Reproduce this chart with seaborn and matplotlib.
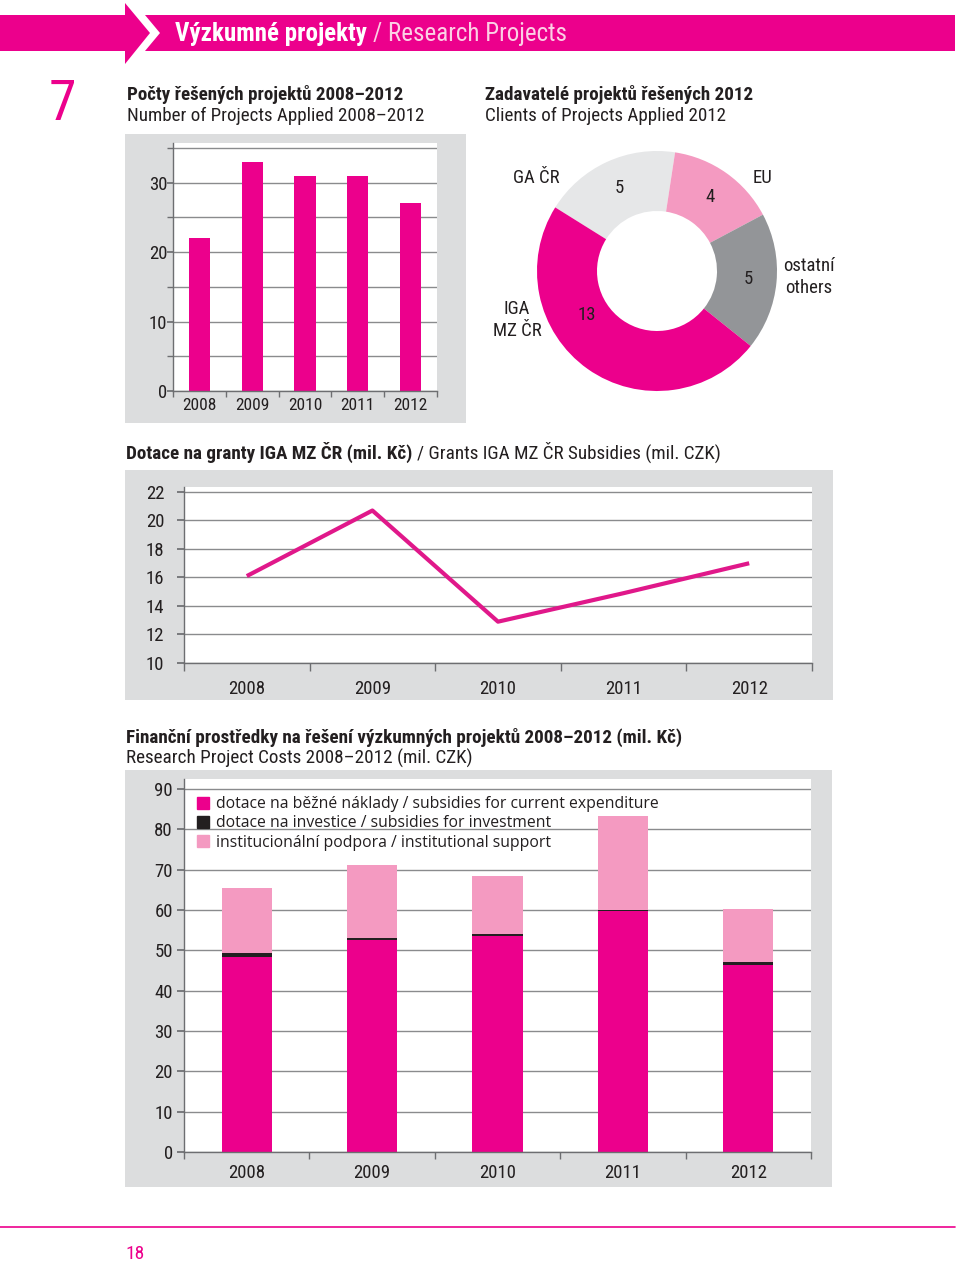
import numpy as np
import pandas as pd
import matplotlib
matplotlib.use("Agg")
import matplotlib.pyplot as plt
import seaborn as sns
from matplotlib import font_manager as fm
from matplotlib.patches import Rectangle, Polygon
from matplotlib.lines import Line2D

# ---------------- data ----------------
years = ["2008", "2009", "2010", "2011", "2012"]
projects = [22, 33, 31, 31, 27]

clients = ["GA ČR", "EU", "ostatní\nothers", "IGA\nMZ ČR"]
client_counts = [5, 4, 5, 13]

iga_grants = [16.1, 20.7, 12.9, 14.9, 17.0]

current_exp = [48.3, 52.6, 53.6, 59.8, 46.3]
investment = [1.1, 0.5, 0.4, 0.3, 0.8]
institutional = [16.1, 18.0, 14.4, 23.2, 13.2]

legend_labels = ["dotace na běžné náklady / subsidies for current expenditure",
                 "dotace na investice / subsidies for investment",
                 "institucionální podpora / institutional support"]

# ---------------- style ----------------
MAG = "#ec008c"
LINE = "#e0188a"
PINK = "#f49ac1"
GRAYD = "#939598"
GRAYL = "#e6e7e8"
PANEL = "#dcddde"
GRID = "#8a8b8d"
AXC = "#6d6e71"
DARK = "#231f20"
BLK = "#231f20"

sns.set_theme(style="white")


def pick_condensed():
    fl = fm.fontManager.ttflist
    names = {f.name for f in fl}
    for n in ["Roboto Condensed", "Liberation Sans Narrow", "Open Sans Condensed",
              "Noto Sans Condensed"]:
        if n in names:
            return n, "normal"
    for f in fl:
        if str(f.stretch) in ("condensed", "semi-condensed"):
            return f.name, str(f.stretch)
    return "Liberation Sans", "normal"


CF, CS = pick_condensed()
plt.rcParams["font.family"] = [CF, "DejaVu Sans"]
plt.rcParams["font.stretch"] = CS

W, H = 960, 1269
fig = plt.figure(figsize=(W / 100, H / 100), dpi=100)
fig.patch.set_facecolor("white")


def fx(x):
    return x / W


def fy(y):
    return 1 - y / H


def AX(x0, y0, x1, y1):
    return fig.add_axes([fx(x0), fy(y1), (x1 - x0) / W, (y1 - y0) / H])


def T(x, y, s, size, bold=False, color=DARK, ha="left", va="center", weight=None, **kw):
    return fig.text(fx(x), fy(y), s, fontsize=size,
                    fontweight=weight or ("bold" if bold else "normal"), color=color,
                    ha=ha, va=va, family=[CF, "DejaVu Sans"], fontstretch=CS, **kw)


renderer = fig.canvas.get_renderer()


def T2(x, y, s1, s2, size, c1=DARK, c2=DARK):
    t1 = T(x, y, s1, size, bold=True, color=c1)
    bb = t1.get_window_extent(renderer)
    T(bb.x1 + size * 0.35, y, s2, size, bold=False, color=c2)


def panel(x0, y0, x1, y1):
    fig.add_artist(Rectangle((fx(x0), fy(y1)), (x1 - x0) / W, (y1 - y0) / H,
                             transform=fig.transFigure, color=PANEL, zorder=-5, lw=0))


def poly(pts, color):
    fig.add_artist(Polygon([(fx(a), fy(b)) for a, b in pts], closed=True,
                           transform=fig.transFigure, color=color, lw=0, zorder=-5))


# ---------------- header ----------------
poly([(0, 15), (125, 15), (125, 3), (150, 33), (125, 64), (125, 51), (0, 51)], MAG)
poly([(145, 15), (955, 15), (955, 51), (145, 51), (160, 33)], MAG)
T2(175, 34, "Výzkumné projekty", "/ Research Projects", 18, c1="white", c2="#fbd0e5")

T(62, 104, "7", 40, color=MAG, ha="center", weight="normal")

T(127, 95, "Počty řešených projektů 2008–2012", 13.7, bold=True)
T(127, 116, "Number of Projects Applied 2008–2012", 13.7)
T(485, 95, "Zadavatelé projektů řešených 2012", 13.7, bold=True)
T(485, 116, "Clients of Projects Applied 2012", 13.7)


def style_axes(ax, ylab=13, xlab=13, ylen=4, xlen=5, xpad=6, ypad=3):
    for s in ["top", "right"]:
        ax.spines[s].set_visible(False)
    for s in ["left", "bottom"]:
        ax.spines[s].set_color(AXC)
        ax.spines[s].set_linewidth(1)
    ax.set_xlabel("")
    ax.set_ylabel("")
    ax.set_axisbelow(True)
    ax.set_xlim(-0.5, len(years) - 0.5)
    ax.set_xticks(np.arange(len(years)))
    ax.set_xticklabels(years)
    ax.set_xticks(np.arange(len(years) + 1) - 0.5, minor=True)
    ax.tick_params(axis="x", which="major", length=0, labelsize=xlab, pad=xpad,
                   labelcolor=DARK)
    ax.tick_params(axis="x", which="minor", bottom=True, length=xlen, color=AXC,
                   direction="out")
    ax.tick_params(axis="y", which="both", left=True, length=ylen, color=AXC,
                   labelsize=ylab, pad=ypad, labelcolor=DARK)
    ax.set_facecolor("white")


BAR_KW = dict(width=0.4, saturation=1, errorbar=None, linewidth=0, edgecolor="none")

# ---------------- chart 1: bar ----------------
panel(125, 134, 466, 423)
ax1 = AX(173, 143, 437, 391)
sns.barplot(x=years, y=projects, color=MAG, ax=ax1, **BAR_KW)
ax1.set_ylim(0, 35.7)
ax1.set_yticks([0, 10, 20, 30])
ax1.set_yticks([5, 15, 25, 35], minor=True)
ax1.yaxis.grid(True, which="both", color=GRID, lw=1)
style_axes(ax1, ylab=13.5, xlab=12.5, xlen=4, xpad=5, ylen=4, ypad=0)

# ---------------- chart 2: donut ----------------
ax2 = AX(527, 141, 787, 401)
total_clients = sum(client_counts)
wedges, names, nums = ax2.pie(
    client_counts, colors=[GRAYL, PINK, GRAYD, MAG], startangle=148,
    counterclock=False, wedgeprops=dict(width=0.5, linewidth=0),
    autopct=lambda p: f"{round(p * total_clients / 100):d}", pctdistance=0.76,
    labels=clients, labeldistance=1.25,
    textprops=dict(fontsize=13.5, color=DARK))
ax2.set_xlim(-1.0833, 1.0833)
ax2.set_ylim(-1.0833, 1.0833)
ax2.set_aspect("equal")
ax2.axis("off")
name_pos = [(-1.008, 0.775), (0.883, 0.775), (1.267, -0.05), (-1.167, -0.408)]
for t, p in zip(names, name_pos):
    t.set_position(p)
    t.set_ha("center")
    t.set_va("center")
    t.set_linespacing(1.25)
    t.set_clip_on(False)
nums[3].set_position((-0.583, -0.367))

# ---------------- chart 3: line ----------------
T2(126, 452, "Dotace na granty IGA MZ ČR (mil. Kč)",
   "/ Grants IGA MZ ČR Subsidies (mil. CZK)", 13.8)
panel(125, 470, 833, 700)
ax3 = AX(184, 487, 812, 663)
sns.lineplot(x=years, y=iga_grants, color=LINE, linewidth=3.0, ax=ax3,
             sort=False, solid_capstyle="butt")
ax3.set_ylim(10, 22.35)
ax3.set_yticks(np.arange(10, 23, 2))
ax3.yaxis.grid(True, which="major", color=GRID, lw=1)
style_axes(ax3, ylab=13.5, xlab=13.5, xlen=6, xpad=12, ylen=5, ypad=9)

# ---------------- chart 4: stacked bar ----------------
T(126, 737, "Finanční prostředky na řešení výzkumných projektů 2008–2012 (mil. Kč)",
  13.8, bold=True)
T(126, 758, "Research Project Costs 2008–2012 (mil. CZK)", 13.8)
panel(125, 770, 832, 1187)
ax4 = AX(184, 779, 811, 1152)
cur = np.array(current_exp)
cur_inv = cur + np.array(investment)
tot = cur_inv + np.array(institutional)
sns.barplot(x=years, y=tot, color=PINK, ax=ax4, **BAR_KW)
sns.barplot(x=years, y=cur_inv, color=BLK, ax=ax4, **BAR_KW)
sns.barplot(x=years, y=cur, color=MAG, ax=ax4, **BAR_KW)
ax4.set_ylim(0, 92.5)
ax4.set_yticks(np.arange(0, 91, 10))
ax4.yaxis.grid(True, which="major", color=GRID, lw=1)
style_axes(ax4, ylab=13.5, xlab=13.5, xlen=5, xpad=9, ylen=5)

handles = [Line2D([], [], marker="s", ls="", color=c, markersize=8)
           for c in [MAG, BLK, PINK]]
ax4.legend(handles, legend_labels, loc="upper left",
           bbox_to_anchor=(fx(198), fy(796)), bbox_transform=fig.transFigure,
           frameon=False, prop={"family": ["Open Sans", "DejaVu Sans"], "size": 11.3},
           handlelength=0.7, handletextpad=0.45, labelspacing=0.22,
           borderaxespad=0, borderpad=0, labelcolor=DARK)

# ---------------- footer ----------------
fig.add_artist(Line2D([0, fx(955)], [fy(1227), fy(1227)], transform=fig.transFigure,
                      color=MAG, lw=1.2))
T(135, 1254, "18", 14, color=MAG, ha="center")

fig.savefig("out.png", dpi=100)
